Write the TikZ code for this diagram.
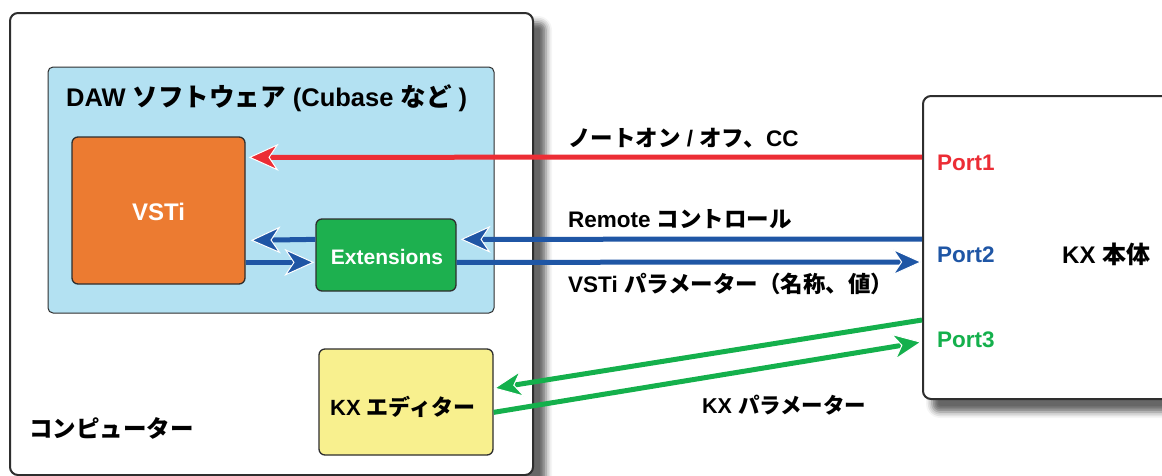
\documentclass[tikz,border=0pt]{standalone}
\usepackage{fontspec}
\setmainfont{Liberation Sans}
\newfontfamily\jpf{Noto Sans CJK JP}
\newcommand\J[1]{{\jpf\bfseries #1}}
\usetikzlibrary{arrows.meta,shadows.blur}
\definecolor{cred}{HTML}{EC2D35}
\definecolor{cblue}{HTML}{1F56A5}
\definecolor{cgreen}{HTML}{14B04C}
\definecolor{corange}{HTML}{EC7B31}
\definecolor{cextg}{HTML}{1DB04F}
\definecolor{cyellow}{HTML}{F8F08E}
\definecolor{cdaw}{HTML}{B3E1F2}
\definecolor{cborder}{HTML}{2E2E2E}
\begin{document}
\begin{tikzpicture}[x=1pt,y=-1pt,
  box/.style={draw=cborder, line width=1.3pt, rounded corners=6pt, inner sep=0pt},
  lbl/.style={font=\fontsize{22.5}{27}\selectfont\bfseries, inner sep=0pt, anchor=base west},
  arr/.style={draw=#1, line width=5pt, -{Stealth[length=30pt,width=27pt,inset=9pt,color=white,fill=#1,line width=1pt]}}
]
\useasboundingbox (0,0) rectangle (1162,475);
% computer
\node[box, fill=white, line width=2pt, rounded corners=8pt, minimum width=523pt, minimum height=462pt,
  blur shadow={shadow xshift=13pt, shadow yshift=-9pt, shadow blur radius=6pt, shadow opacity=60}] (comp) at (271.5,244) {};
% DAW
\node[box, fill=cdaw, line width=1pt, rounded corners=5pt, minimum width=446pt, minimum height=246pt] (daw) at (271,190) {};
% VSTi
\node[box, fill=corange, minimum width=173pt, minimum height=147pt] (vsti) at (158.5,210.5) {};
% Extensions
\node[box, fill=cextg, minimum width=140pt, minimum height=72pt] (ext) at (386,255) {};
% KX editor
\node[box, fill=cyellow, minimum width=174pt, minimum height=106pt] (edit) at (406,402) {};
% KX body
\node[box, fill=white, line width=2pt, rounded corners=8pt, minimum width=257pt, minimum height=303pt,
  blur shadow={shadow xshift=9pt, shadow yshift=-13pt, shadow blur radius=6pt, shadow opacity=60}] (kx) at (1051.5,247.5) {};

% arrows
\draw[arr=cred] ([yshift=-62pt]kx.north west) -- ([xshift=3pt,yshift=-21pt]vsti.north east);
\draw[arr=cblue] ([yshift=-144pt]kx.north west) -- ([xshift=4pt,yshift=-21pt]ext.north east);
\draw[arr=cblue] ([yshift=-44pt]ext.north east) -- ([yshift=-167pt]kx.north west);
\draw[arr=cblue] ([yshift=-21pt]ext.north west) -- ([xshift=5pt,yshift=-104pt]vsti.north east);
\draw[arr=cblue] ([yshift=-126pt]vsti.north east) -- ([xshift=-1pt,yshift=-44pt]ext.north west);
\draw[arr=cgreen] ([yshift=-225pt]kx.north west) -- ([yshift=-40pt]edit.north east);
\draw[arr=cgreen] ([yshift=-64pt]edit.north east) -- ([yshift=-247pt]kx.north west);

% texts
\node[lbl, font=\fontsize{25.5}{30}\selectfont\bfseries] (title) at (66,106) {DAW \J{ソフトウェア} (Cubase \J{など} )};
\node[lbl, anchor=base, text=white, font=\fontsize{24}{28}\selectfont\bfseries] (vstit) at (158.5,220) {VSTi};
\node[lbl, anchor=base, text=white, font=\fontsize{21}{25}\selectfont\bfseries] (extt) at (387,264) {Extensions};
\node[lbl, font=\fontsize{22}{26}\selectfont\bfseries] (editt) at (330,415) {KX \J{エディター}};
\node[lbl, font=\fontsize{23.5}{28}\selectfont\bfseries] (compt) at (29,437) {\J{コンピューター}};
\node[lbl] (l1) at (568,146) {\J{ノートオン} / \J{オフ、}CC};
\node[lbl] (l2) at (568,227) {Remote \J{コントロール}};
\node[lbl] (l3) at (568,292) {VSTi \J{パラメーター（名称、値）}};
\node[lbl, font=\fontsize{21.5}{26}\selectfont\bfseries] (l4) at (702,413) {KX \J{パラメーター}};
\node[lbl, text=cred] (p1) at (937,170) {Port1};
\node[lbl, text=cblue] (p2) at (937,262) {Port2};
\node[lbl, text=cgreen] (p3) at (937,347) {Port3};
\node[lbl, font=\fontsize{24}{28}\selectfont\bfseries] (kxt) at (1062,263) {KX \J{本体}};
\end{tikzpicture}
\end{document}
